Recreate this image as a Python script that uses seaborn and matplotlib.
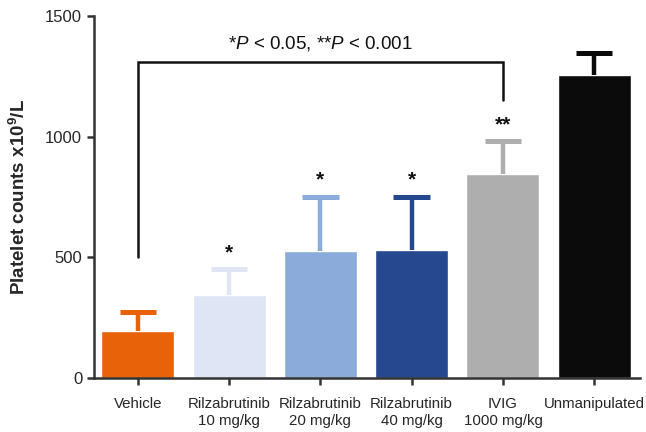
import matplotlib
matplotlib.use("Agg")
import matplotlib.pyplot as plt
import seaborn as sns
import pandas as pd

categories = ["Vehicle", "Rilzabrutinib\n10 mg/kg", "Rilzabrutinib\n20 mg/kg",
              "Rilzabrutinib\n40 mg/kg", "IVIG\n1000 mg/kg", "Unmanipulated"]
means = [195, 345, 525, 530, 845, 1255]
errors = [78, 105, 225, 220, 135, 90]
colors = ["#E8620A", "#DFE5F4", "#8BABDA", "#25488F", "#AEAEAE", "#0B0B0B"]
stars = ["", "*", "*", "*", "**", ""]
yticks = [0, 500, 1000, 1500]

sns.set_theme(style="ticks")
plt.rcParams['font.family'] = ['Liberation Sans', 'DejaVu Sans']
plt.rcParams['mathtext.fontset'] = 'custom'
plt.rcParams['mathtext.rm'] = 'Liberation Sans'
plt.rcParams['mathtext.it'] = 'Liberation Sans:italic'
plt.rcParams['mathtext.bf'] = 'Liberation Sans:bold'

df = pd.DataFrame({"cat": categories, "val": means})
fig = plt.figure(figsize=(6.46, 4.32), dpi=100)
ax = fig.add_axes([0.1455, 0.125, 0.845, 0.838])
sns.barplot(data=df, x="cat", y="val", hue="cat", palette=colors, legend=False,
            width=0.8, saturation=1, ax=ax, errorbar=None)
half_cap = 0.2
for i, (m, e, c) in enumerate(zip(means, errors, colors)):
    ax.plot([i, i], [m, m + e], color=c, lw=3.2, solid_capstyle="butt", zorder=3)
    ax.plot([i - half_cap, i + half_cap], [m + e, m + e], color=c, lw=3.6,
            solid_capstyle="butt", zorder=3)
    if stars[i]:
        ax.text(i, m + e + 30, stars[i], ha="center", va="bottom",
                fontsize=15, fontweight="bold", color="#111111")

# significance bracket
ax.plot([0, 0, 4, 4], [500, 1310, 1310, 1150], color="#111111", lw=1.8,
        solid_joinstyle="miter", zorder=4)
ax.text(2, 1345, r"*$\it{P}$ < 0.05, **$\it{P}$ < 0.001", ha="center", va="bottom",
        fontsize=13.5, color="#111111")

ax.set_xlim(-0.48, 5.5)
ax.set_ylim(0, 1500)
ax.set_yticks(yticks)
ax.set_xlabel("")
ax.set_ylabel(r"Platelet counts x10$^\mathbf{9}$/L", fontsize=13.5, fontweight="bold", labelpad=12)
sns.despine(ax=ax)
for s in ["left", "bottom"]:
    ax.spines[s].set_linewidth(1.8)
    ax.spines[s].set_color("#333333")
ax.tick_params(axis="both", width=1.8, color="#333333", length=5, labelsize=12)
ax.tick_params(axis="x", labelsize=10.8, pad=9)
fig.savefig("out.png", dpi=100)
